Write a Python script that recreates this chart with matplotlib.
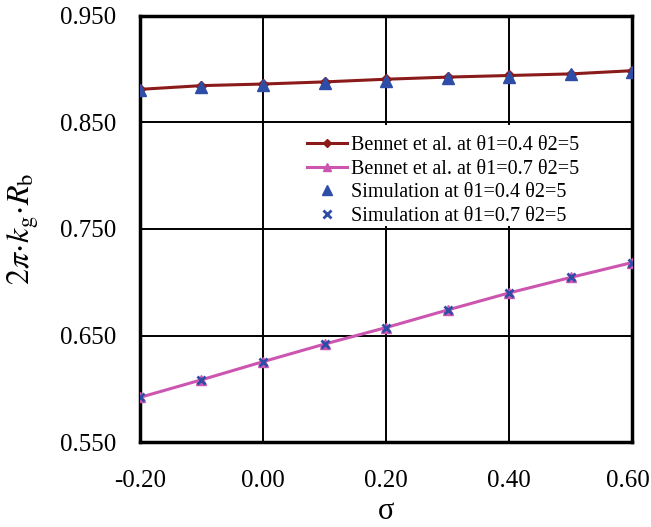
import matplotlib
matplotlib.use("Agg")
import matplotlib.pyplot as plt
import matplotlib.transforms as mtransforms
from matplotlib.patches import Rectangle

sigma = [-0.2, -0.1, 0.0, 0.1, 0.2, 0.3, 0.4, 0.5, 0.6]
bennet_04 = [0.881, 0.8845, 0.886, 0.888, 0.8905, 0.8925, 0.894, 0.8955, 0.8985]
bennet_07 = [0.592, 0.6085, 0.6255, 0.642, 0.6575, 0.674, 0.690, 0.7045, 0.7185]
sim_04 = [0.880, 0.8835, 0.885, 0.887, 0.889, 0.8915, 0.893, 0.895, 0.8975]
sim_07 = [0.592, 0.6085, 0.6255, 0.642, 0.6575, 0.674, 0.690, 0.7045, 0.7185]

xticks = [-0.2, 0.0, 0.2, 0.4, 0.6]
yticks = [0.55, 0.65, 0.75, 0.85, 0.95]

plt.rcParams['font.family'] = ['Liberation Serif', 'DejaVu Serif']
plt.rcParams['mathtext.fontset'] = 'stix'

fig = plt.figure(figsize=(6.51, 5.27), dpi=100)
ax = fig.add_axes([0.215, 0.161, 0.756, 0.809])

red = '#8B1A1A'
pink = '#CC55B0'
blue = '#2E4DA6'

ax.plot(sigma, bennet_04, color=red, lw=2.2, marker='D', ms=5, mfc=red, mec=red,
        label=r'Bennet et al. at θ1=0.4 θ2=5', zorder=3)
ax.plot(sigma, bennet_07, color=pink, lw=2.2, marker='^', ms=7, mfc=pink, mec=pink,
        label=r'Bennet et al. at θ1=0.7 θ2=5', zorder=3)
ax.plot(sigma, sim_04, ls='none', marker='^', ms=9, color=blue,
        label=r'Simulation at θ1=0.4 θ2=5', zorder=4)
ax.plot(sigma, sim_07, ls='none', marker='x', ms=6, mew=2, color=blue,
        label=r'Simulation at θ1=0.7 θ2=5', zorder=4)

ax.set_xlim(-0.2, 0.6)
ax.set_ylim(0.55, 0.95)
ax.set_xticks(xticks)
ax.set_yticks(yticks)
ax.set_xticklabels([f'{v:.2f}' for v in xticks])
ax.set_yticklabels([f'{v:.3f}' for v in yticks])
ax.tick_params(length=0, labelsize=18)
ax.tick_params(axis='y', pad=17)
ax.tick_params(axis='x', pad=20)
ax.grid(True, color='black', lw=1.4, zorder=0.5)
ax.set_axisbelow(True)
for s in ax.spines.values():
    s.set_linewidth(2.5)
    s.set_color('black')

# legend background (white panel between gridlines)
ax.add_patch(Rectangle((0.258, 0.506), 0.742, 0.238, transform=ax.transAxes,
                       facecolor='white', edgecolor='none', zorder=1))

ax.set_xlabel('σ', fontsize=22, labelpad=4)
ax.set_ylabel(r'$2\pi\!\cdot\! k_{\mathrm{g}}\!\cdot\! R_{\mathrm{b}}$', fontsize=23, labelpad=14)

leg = ax.legend(loc='upper left', bbox_to_anchor=(0.339, 0.718), fontsize=14.5,
                frameon=False, handlelength=2.0, labelspacing=0.22, borderpad=0,
                handletextpad=0.2, borderaxespad=0, markerscale=0.85)
leg.set_zorder(2.5)

fig.canvas.draw()
last = ax.get_xticklabels()[-1]
last.set_transform(last.get_transform() +
                   mtransforms.ScaledTranslation(-4 / 100, 0, fig.dpi_scale_trans))

fig.savefig('out.png', dpi=100)
